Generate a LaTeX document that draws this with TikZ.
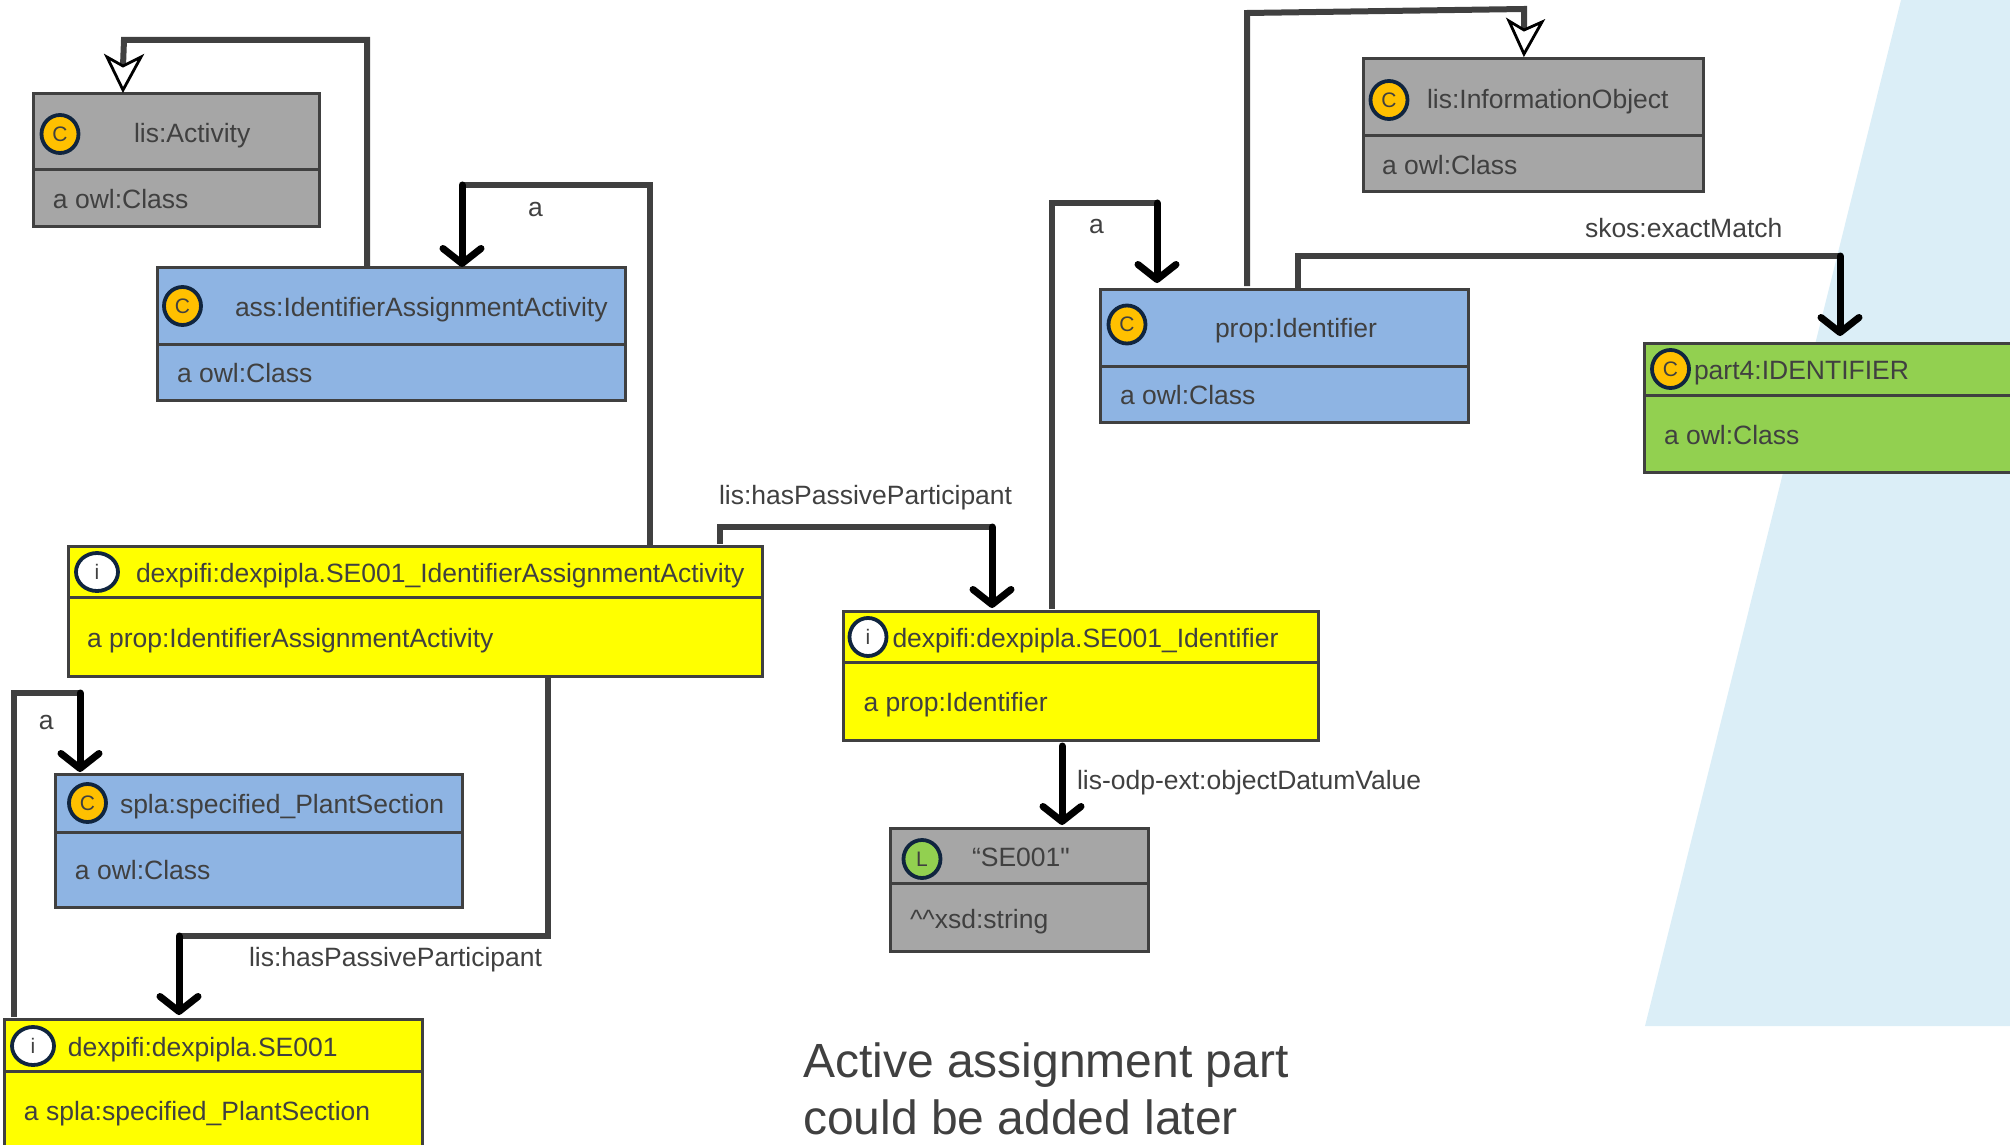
\documentclass[tikz,border=0pt]{standalone}
\usepackage{fontspec}
\setmainfont{Liberation Sans}
\newfontfamily\rawfont[Ligatures=TeXOff]{Liberation Sans}
\usetikzlibrary{arrows.meta,shapes.geometric}
\definecolor{ink}{HTML}{404040}
\definecolor{navy}{HTML}{10253F}
\definecolor{greybox}{HTML}{A6A6A6}
\definecolor{bluebox}{HTML}{8EB4E3}
\definecolor{greenbox}{HTML}{92D050}
\definecolor{bgblue}{HTML}{DBEEF7}
\definecolor{amber}{HTML}{FFC000}
\definecolor{yellowbox}{HTML}{FFFF00}
\tikzset{
  x=0.5pt,y=-0.5pt,
  umlbox/.style={draw=ink,line width=1.5pt,rectangle,anchor=north west,inner sep=0pt,outer sep=0pt},
  rule/.style={draw=ink,line width=1.5pt},
  txt/.style={text=ink,font=\fontsize{13.25pt}{15pt}\selectfont,anchor=west,inner sep=0pt,outer sep=0pt,text height=.72em,text depth=.2em,yshift=-2.3pt},
  bigtxt/.style={text=ink,font=\fontsize{24pt}{28pt}\selectfont,anchor=west,inner sep=0pt,outer sep=0pt,text height=.72em,text depth=.2em},
  badge/.style={ellipse,draw=navy,line width=1.9pt,inner sep=0pt,outer sep=0pt,text=ink,font=\fontsize{10.5pt}{12pt}\selectfont},
  graypath/.style={draw=ink,line width=3pt,line cap=butt,line join=miter},
  blackpath/.style={draw=black,line width=3.5pt,line cap=round,-{Straight Barb[round,length=7.5pt,width=19pt]}},
  genpath/.style={draw=ink,line width=3pt,line join=miter},
  openhead/.style={draw=black,fill=white,line width=1.4pt,line join=miter}
}
\newcommand{\umlnode}[7]{%
  \node[umlbox,fill=#7,minimum width={(#4-#2-1.2)*0.5pt},minimum height={(#5-#3)*0.5pt}] (#1) at (#2,#3) {};
  \draw[rule] (#1.west |- 0,#6) -- (#1.east |- 0,#6);}
\newcommand{\kindbadge}[7]{%
  \node[badge,fill=#5,minimum width={#6*0.5pt},minimum height={#7*0.5pt}] (#1) at (#3,#4) {#2};}
\begin{document}
\begin{tikzpicture}
\path[use as bounding box,clip] (0,0) rectangle (2010,1145);
\fill[bgblue] (1901,0) -- (2010,0) -- (2010,1026) -- (1645,1026) -- cycle;

% boxes
\umlnode{act}{33}{94}{321}{227}{170}{greybox}
\kindbadge{actc}{C}{60}{134}{amber}{37}{38}
\node[txt] (actt) at (134,133) {lis:Activity};
\node[txt] (actb) at (53,199) {a owl:Class};

\umlnode{ass}{157}{267}{627}{400}{344}{bluebox}
\kindbadge{assc}{C}{182.5}{306}{amber}{37}{38}
\node[txt] (asst) at (235,307) {ass:IdentifierAssignmentActivity};
\node[txt] (assb) at (177,373) {a owl:Class};

\umlnode{info}{1363}{59}{1705}{192}{136}{greybox}
\kindbadge{infoc}{C}{1389}{100}{amber}{37}{38}
\node[txt] (infot) at (1427,99) {lis:InformationObject};
\node[txt] (infob) at (1382,165) {a owl:Class};

\umlnode{prop}{1100}{289}{1470}{422}{366}{bluebox}
\kindbadge{propc}{C}{1127}{324.5}{amber}{37}{38}
\node[txt] (propt) at (1215,328) {prop:Identifier};
\node[txt] (propb) at (1120,395) {a owl:Class};

\umlnode{part}{1644}{343}{2030}{472}{395}{greenbox}
\kindbadge{partc}{C}{1670.5}{369}{amber}{37}{38}
\node[txt] (partt) at (1694,370) {part4:IDENTIFIER};
\node[txt] (partb) at (1664,435) {a owl:Class};

\umlnode{main}{68}{546}{764}{676}{597}{yellowbox}
\kindbadge{mainc}{i}{97}{572}{white}{42}{38}
\node[txt] (maint) at (136,573) {dexpifi:dexpipla.SE001\_IdentifierAssignmentActivity};
\node[txt] (mainb) at (87,638) {a prop:IdentifierAssignmentActivity};

\umlnode{iden}{843.5}{611}{1320}{740}{662}{yellowbox}
\kindbadge{idenc}{i}{868}{637}{white}{37}{38}
\node[txt] (ident) at (892.5,638) {dexpifi:dexpipla.SE001\_Identifier};
\node[txt] (idenb) at (863.5,702) {a prop:Identifier};

\umlnode{spla}{55}{774}{464}{907}{832}{bluebox}
\kindbadge{splac}{C}{87.5}{803}{amber}{37}{38}
\node[txt] (splat) at (120,804) {spla:specified\_PlantSection};
\node[txt] (splab) at (75,870) {a owl:Class};

\umlnode{plant}{4}{1019}{424}{1170}{1071}{yellowbox}
\kindbadge{plantc}{i}{33}{1046}{white}{42}{38}
\node[txt] (plantt) at (68,1047) {dexpifi:dexpipla.SE001};
\node[txt] (plantb) at (24,1111) {a spla:specified\_PlantSection};

\umlnode{lit}{890}{828}{1150}{951}{883}{greybox}
\kindbadge{litc}{L}{922}{859}{greenbox}{37}{38}
\node[txt] (litt) at (972,857) {{\rawfont “SE001"}};
\node[txt] (litb) at (910,919) {\textasciicircum\textasciicircum xsd:string};

% labels
\node[txt] (l1) at (528,207) {a};
\node[txt] (l2) at (1089,224) {a};
\node[txt] (l3) at (39,720) {a};
\node[txt] (l4) at (719,495) {lis:hasPassiveParticipant};
\node[txt] (l5) at (249,957) {lis:hasPassiveParticipant};
\node[txt] (l6) at (1585,228) {skos:exactMatch};
\node[txt] (l7) at (1077,780) {lis-odp-ext:objectDatumValue};
\node[bigtxt] (n1) at (803,1072) {Active assignment part};
\node[bigtxt] (n2) at (803,1129) {could be added later};

% generalisation lis:Activity
\coordinate (ga) at (367,40);
\coordinate (gb) at (124,40);
\coordinate (gc) at (123,66);
\draw[genpath] (ga |- ass.north) -- (ga) -- (gb) -- (gc);
\draw[openhead] (123,90) -- (107,57) -- (gc) -- (141,57) -- cycle;

% generalisation lis:InformationObject
\coordinate (ia) at (1247,13);
\coordinate (ib) at (1524,9);
\coordinate (ic) at (1524,30);
\draw[genpath] ([yshift=1.5pt]ia |- prop.north) -- (ia) -- (ib) -- (ic);
\draw[openhead] (1524,54) -- (1509,21) -- (ic) -- (1542,22) -- cycle;

% a: main -> ass
\coordinate (a1) at (650,185);
\coordinate (a2) at (462,185);
\draw[graypath] (a1 |- main.north) -- (a1) -- (a2);
\draw[blackpath] (a2) -- (a2 |- ass.north);

% a: iden -> prop
\coordinate (b1) at (1052,203);
\coordinate (b2) at (1157,203);
\draw[graypath] ([yshift=1pt]b1 |- iden.north) -- (b1) -- (b2);
\draw[blackpath] (b2) -- ([yshift=3pt]b2 |- prop.north);

% skos:exactMatch
\coordinate (c1) at (1298,256);
\coordinate (c2) at (1840,256);
\draw[graypath] (c1 |- prop.north) -- (c1) -- (c2);
\draw[blackpath] (c2) -- ([yshift=3.5pt]c2 |- part.north);

% hasPassiveParticipant main -> iden
\coordinate (d1) at (720,527);
\coordinate (d2) at (992,527);
\draw[graypath] ([yshift=1pt]d1 |- main.north) -- (d1) -- (d2);
\draw[blackpath] (d2) -- ([yshift=1.5pt]d2 |- iden.north);

% hasPassiveParticipant main -> plant
\coordinate (e1) at (548,936);
\coordinate (e2) at (179,936);
\draw[graypath] ([yshift=-1pt]e1 |- main.south) -- (e1) -- (e2);
\draw[blackpath] (e2) -- ([yshift=2pt]e2 |- plant.north);

% a: plant -> spla
\coordinate (f1) at (14,693);
\coordinate (f2) at (80,693);
\draw[graypath] ([yshift=1pt]f1 |- plant.north) -- (f1) -- (f2);
\draw[blackpath] (f2) -- ([yshift=1pt]f2 |- spla.north);

% objectDatumValue
\coordinate (g1) at (1062,746);
\draw[blackpath] (g1) -- ([yshift=1.5pt]g1 |- lit.north);
\end{tikzpicture}
\end{document}
